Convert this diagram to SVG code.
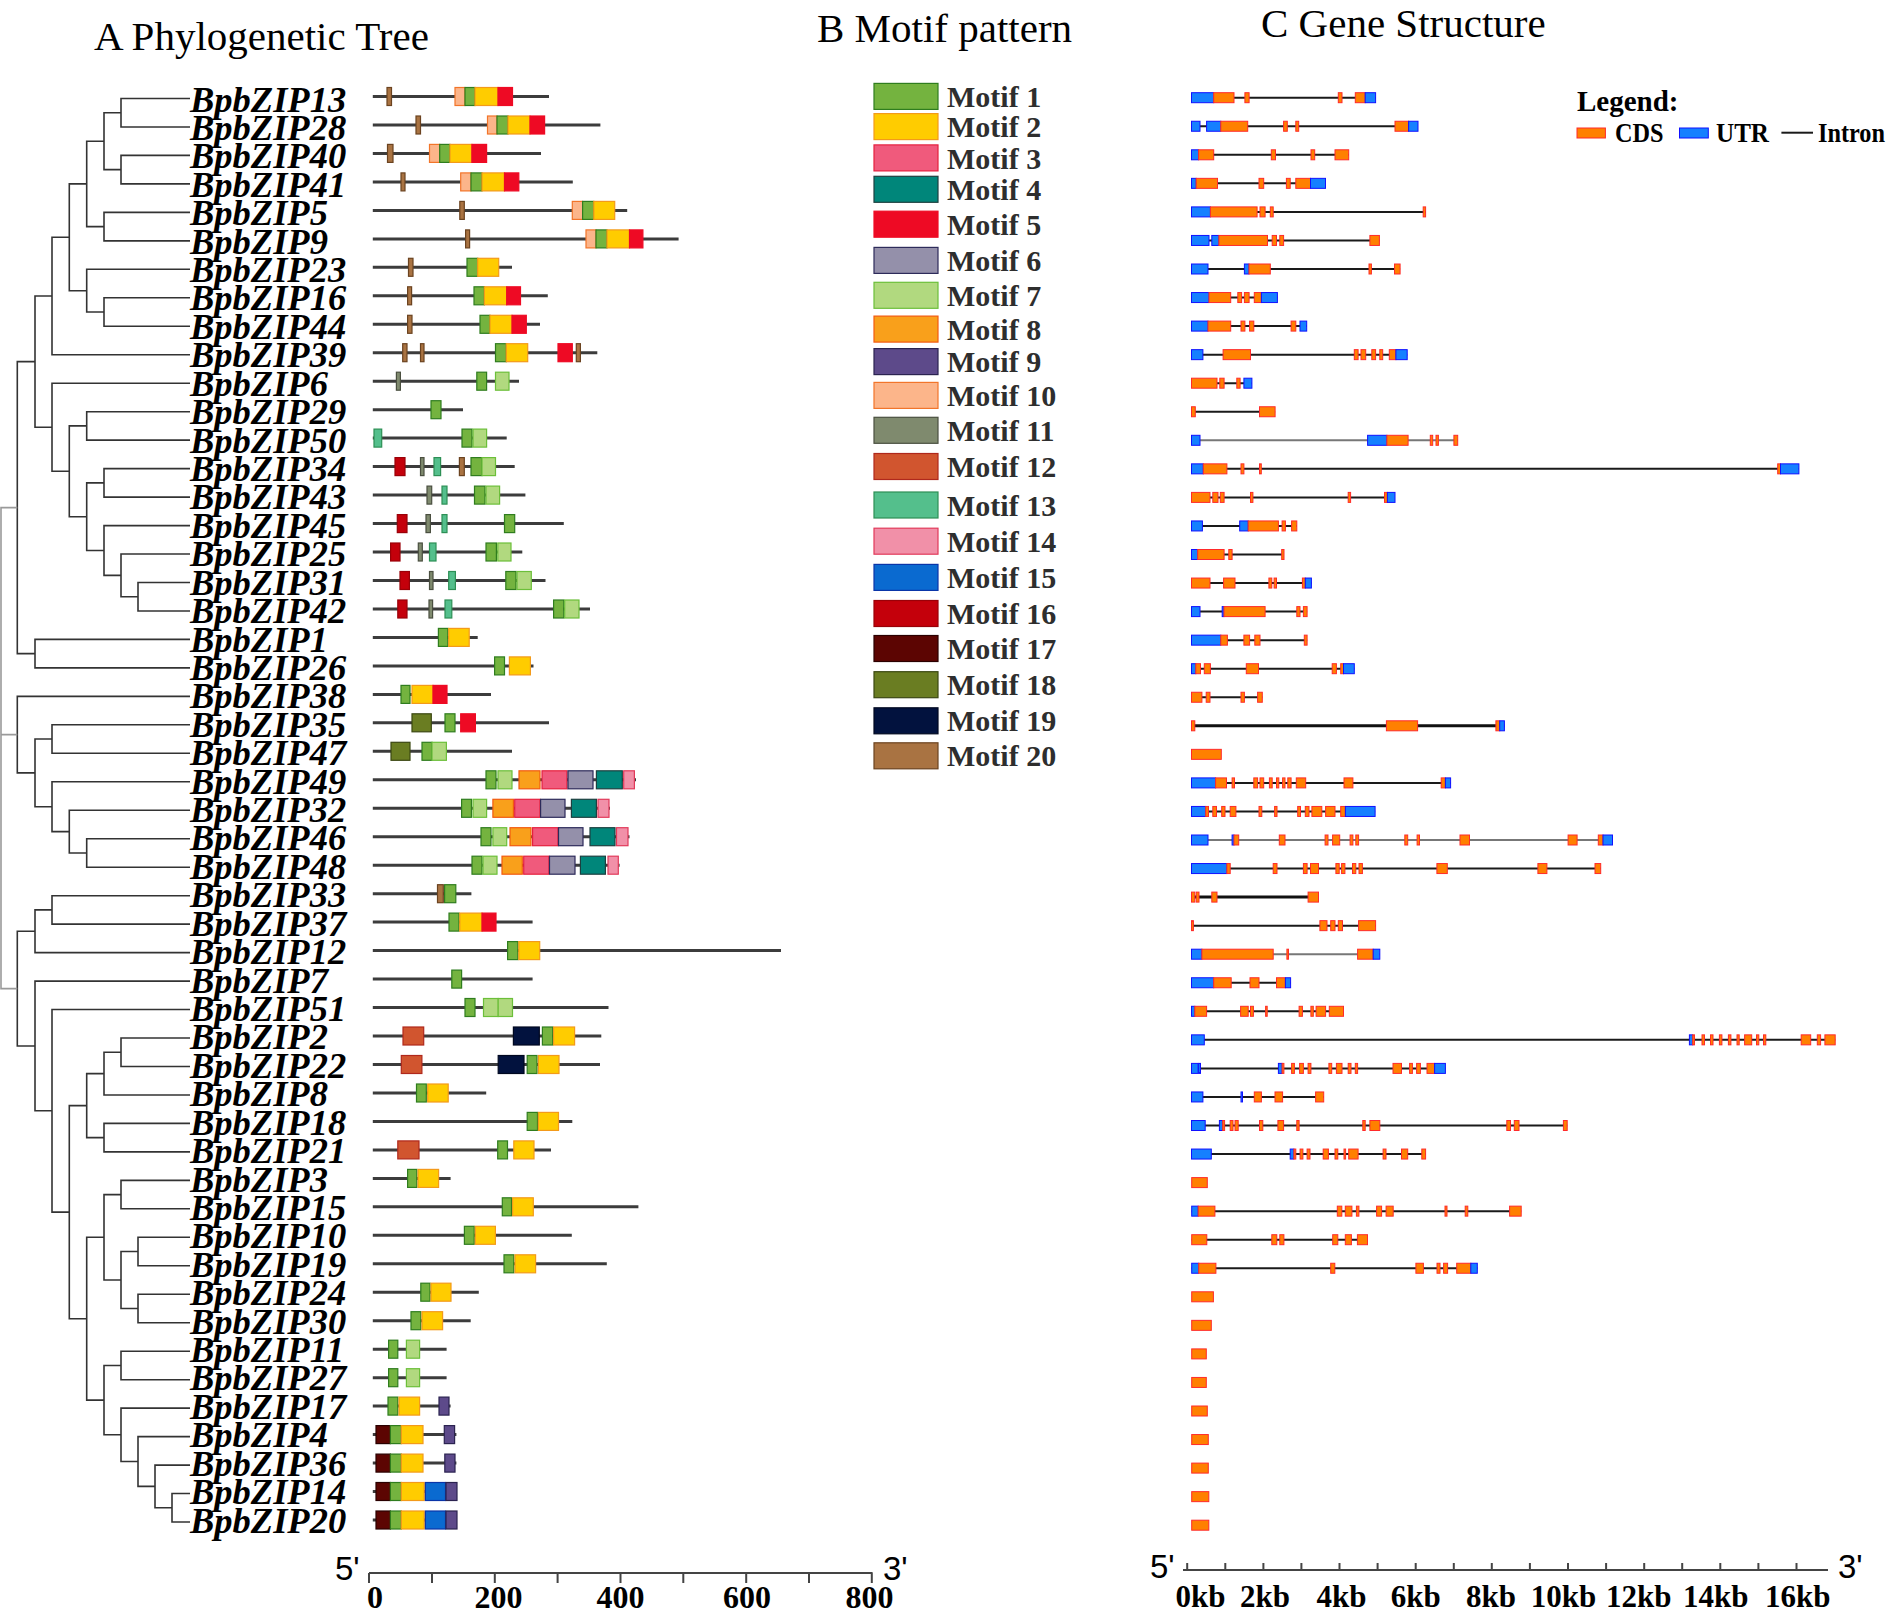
<svg xmlns="http://www.w3.org/2000/svg" width="1890" height="1612" viewBox="0 0 1890 1612">
<defs>
<style>
text{font-family:"Liberation Serif","Times New Roman",serif;fill:#000}
.ttl{font-size:41px}
.g{font-size:36.5px;font-weight:bold;font-style:italic}
.t{fill:none;stroke:#333;stroke-width:1.6}
.tr{fill:none;stroke:#9a9a9a;stroke-width:1.6}
.ml{stroke:#3c3c3c;stroke-width:3}
.il{stroke:#1a1a1a;stroke-width:2}
.ilg{stroke:#777;stroke-width:2}
.ilt{stroke:#111;stroke-width:3}
.c{fill:#ff8000;stroke:#ff2a2a;stroke-width:1}
.u{fill:#1580ff;stroke:#1010ff;stroke-width:1}
.m1,.m2,.m3,.m4,.m5,.m6,.m7,.m8,.m9,.m10,.m11,.m12,.m13,.m14,.m15,.m16,.m17,.m18,.m19,.m20{stroke-width:1.2}
.m1{fill:#74b33f;stroke:#2f7d1e}
.m2{fill:#ffcc00;stroke:#f39a1a}
.m3{fill:#f05a7c;stroke:#e5213f}
.m4{fill:#00867a;stroke:#1d4040}
.m5{fill:#ee0a24;stroke:#ee0a24}
.m6{fill:#9490aa;stroke:#2d2b5a}
.m7{fill:#b1d97f;stroke:#6cbf3a}
.m8{fill:#f9a01b;stroke:#f25a10}
.m9{fill:#5d4a8a;stroke:#2b2350}
.m10{fill:#fcb58a;stroke:#f2752a}
.m11{fill:#7f8a6e;stroke:#4a4f40}
.m12{fill:#d1552f;stroke:#b0281c}
.m13{fill:#54bf8c;stroke:#2d8f55}
.m14{fill:#f190a8;stroke:#e23a5a}
.m15{fill:#0a6ad0;stroke:#0a35a8}
.m16{fill:#c4000b;stroke:#9a0008}
.m17{fill:#5c0502;stroke:#2a0000}
.m18{fill:#6a7d22;stroke:#3b4812}
.m19{fill:#02123e;stroke:#000820}
.m20{fill:#a97342;stroke:#6b4320}
.lg{font-size:30px;font-weight:bold;fill:#2e2e2e}
.ax{stroke:#444;stroke-width:2;fill:none}
.al{font-size:32px;font-weight:bold}
.kb{font-size:31px;font-weight:bold}
.pr{font-family:"Liberation Sans",Arial,sans-serif;font-size:33px}
.lgt{font-size:29px;font-weight:bold}
.lgi{font-size:28px;font-weight:bold}
</style>
</defs>
<rect width="1890" height="1612" fill="#fff"/>

<text class="ttl" x="94" y="50">A Phylogenetic Tree</text>
<text class="ttl" x="817" y="42">B Motif pattern</text>
<text class="ttl" x="1261" y="37">C Gene Structure</text>

<g id="tree">
<path class="t" d="M190 98.5H121V127H190M190 155.4H121V183.9H190M121 112.75H104V169.65H121M190 212.4H104V240.9H190M104 141.2H86.7V226.65H104M190 297.8H104V326.3H190M190 269.3H86.7V312.05H104M86.7 183.9H69.3V290.7H86.7M69.3 237.3H52V354.7H190"/>
<path class="t" d="M190 411.7H86.7V440.1H190M190 468.6H104V497.1H190M190 582.5H138V611H190M190 554H121V596.75H138M190 525.6H104V575.4H121M104 482.85H86.7V550.5H104M86.7 425.9H69.3V516.7H86.7M190 383.2H52V471.3H69.3M52 296H35V427.25H52M190 639.4H35V667.9H190M35 361.6H17.3V653.65H35"/>
<path class="t" d="M190 724.8H52V753.3H190M190 838.7H86.7V867.2H190M190 810.3H69.3V852.95H86.7M190 781.8H52V831.6H69.3M52 739.05H35V806.7H52M190 696.4H17.3V772.9H35"/>
<path class="t" d="M190 895.7H52V924.1H190M52 909.9H35V952.6H190M190 1038H121V1066.5H190M121 1052.25H104V1095H190M190 1123.4H104V1151.9H190M104 1073.6H86.7V1137.65H104M190 1180.4H121V1208.8H190M190 1237.3H138V1265.8H190M190 1294.2H138V1322.7H190M138 1251.55H121V1308.45H138M121 1194.6H104V1280H121M190 1351.2H121V1379.7H190M190 1493.5H172V1522H190M190 1465.1H155V1507.75H172M190 1436.6H138V1486.4H155M190 1408.1H121V1461.5H138M121 1365.45H104V1434.8H121M104 1237.3H86.7V1400.1H104M86.7 1105.6H69.3V1318.7H86.7M190 1009.5H52V1212.15H69.3M190 981.1H35V1110.8H52M35 931.25H17.3V1045.95H35"/>
<path class="tr" d="M17.3 507.6H1V988.6H17.3M1 734.6H17.3"/>
</g>

<g id="BpbZIP13"><text class="g" x="190" y="111.5">BpbZIP13</text>
<g transform="translate(0,96.5)"><line class="ml" x1="372.8" x2="549"/><rect class="m20" x="387" y="-9" width="4.5" height="18"/><rect class="m10" x="455" y="-9" width="10" height="18"/><rect class="m1" x="465" y="-9" width="10" height="18"/><rect class="m2" x="475" y="-9" width="23" height="18"/><rect class="m5" x="498" y="-9" width="14.5" height="18"/></g>
<g transform="translate(0,97.7)"><line class="il" x1="1191.5" x2="1375.6"/><rect class="u" x="1191.5" y="-5" width="22.2" height="10"/><rect class="c" x="1213.7" y="-5" width="20.3" height="10"/><rect class="c" x="1244.9" y="-5" width="4.2" height="10"/><rect class="c" x="1338.3" y="-5" width="3.7" height="10"/><rect class="c" x="1355.3" y="-5" width="9.9" height="10"/><rect class="u" x="1365.2" y="-5" width="10.4" height="10"/></g></g>

<g id="BpbZIP28"><text class="g" x="190" y="139.9">BpbZIP28</text>
<g transform="translate(0,125)"><line class="ml" x1="372.8" x2="600.4"/><rect class="m20" x="416" y="-9" width="4.5" height="18"/><rect class="m10" x="487.5" y="-9" width="9.5" height="18"/><rect class="m1" x="497" y="-9" width="11" height="18"/><rect class="m2" x="508" y="-9" width="22" height="18"/><rect class="m5" x="530" y="-9" width="14.6" height="18"/></g>
<g transform="translate(0,126.25)"><line class="il" x1="1191.5" x2="1418"/><rect class="u" x="1191.5" y="-5" width="8.5" height="10"/><rect class="u" x="1206.6" y="-5" width="14.2" height="10"/><rect class="c" x="1220.8" y="-5" width="26.9" height="10"/><rect class="c" x="1283.6" y="-5" width="3.7" height="10"/><rect class="c" x="1295.8" y="-5" width="2.9" height="10"/><rect class="c" x="1395" y="-5" width="13.6" height="10"/><rect class="u" x="1408.6" y="-5" width="9.4" height="10"/></g></g>

<g id="BpbZIP40"><text class="g" x="190" y="168.3">BpbZIP40</text>
<g transform="translate(0,153.4)"><line class="ml" x1="372.8" x2="541"/><rect class="m20" x="387.5" y="-9" width="5.5" height="18"/><rect class="m10" x="429.5" y="-9" width="10.2" height="18"/><rect class="m1" x="439.7" y="-9" width="10.3" height="18"/><rect class="m2" x="450" y="-9" width="21.9" height="18"/><rect class="m5" x="471.9" y="-9" width="14.7" height="18"/></g>
<g transform="translate(0,154.8)"><line class="il" x1="1191.5" x2="1348.7"/><rect class="u" x="1191.5" y="-5" width="7.1" height="10"/><rect class="c" x="1198.6" y="-5" width="15.1" height="10"/><rect class="c" x="1271.3" y="-5" width="4.2" height="10"/><rect class="c" x="1311" y="-5" width="3.7" height="10"/><rect class="c" x="1335" y="-5" width="13.7" height="10"/></g></g>

<g id="BpbZIP41"><text class="g" x="190" y="196.8">BpbZIP41</text>
<g transform="translate(0,181.9)"><line class="ml" x1="372.8" x2="572.8"/><rect class="m20" x="401" y="-9" width="4" height="18"/><rect class="m10" x="460.7" y="-9" width="10.3" height="18"/><rect class="m1" x="471" y="-9" width="11" height="18"/><rect class="m2" x="482" y="-9" width="22.5" height="18"/><rect class="m5" x="504.5" y="-9" width="14.3" height="18"/></g>
<g transform="translate(0,183.35)"><line class="il" x1="1191.5" x2="1325.5"/><rect class="u" x="1191.5" y="-5" width="4.7" height="10"/><rect class="c" x="1196.2" y="-5" width="21.3" height="10"/><rect class="c" x="1259" y="-5" width="4.7" height="10"/><rect class="c" x="1286.4" y="-5" width="3.8" height="10"/><rect class="c" x="1295.8" y="-5" width="14.7" height="10"/><rect class="u" x="1310.5" y="-5" width="15" height="10"/></g></g>

<g id="BpbZIP5"><text class="g" x="190" y="225.2">BpbZIP5</text>
<g transform="translate(0,210.4)"><line class="ml" x1="372.8" x2="627.2"/><rect class="m20" x="459.8" y="-9" width="4.5" height="18"/><rect class="m10" x="572.3" y="-9" width="10.3" height="18"/><rect class="m1" x="582.6" y="-9" width="11.2" height="18"/><rect class="m2" x="593.8" y="-9" width="20.9" height="18"/></g>
<g transform="translate(0,211.9)"><line class="il" x1="1191.5" x2="1425.6"/><rect class="u" x="1191.5" y="-5" width="18.9" height="10"/><rect class="c" x="1210.4" y="-5" width="46.7" height="10"/><rect class="c" x="1260" y="-5" width="5.1" height="10"/><rect class="c" x="1270.3" y="-5" width="2.9" height="10"/><rect class="c" x="1423.2" y="-5" width="2.4" height="10"/></g></g>

<g id="BpbZIP9"><text class="g" x="190" y="253.6">BpbZIP9</text>
<g transform="translate(0,238.9)"><line class="ml" x1="372.8" x2="678.6"/><rect class="m20" x="465.6" y="-9" width="4" height="18"/><rect class="m10" x="586" y="-9" width="10" height="18"/><rect class="m1" x="596" y="-9" width="11" height="18"/><rect class="m2" x="607" y="-9" width="22.5" height="18"/><rect class="m5" x="629.5" y="-9" width="13.4" height="18"/></g>
<g transform="translate(0,240.45)"><line class="il" x1="1191.5" x2="1379.4"/><rect class="u" x="1191.5" y="-5" width="17.5" height="10"/><rect class="u" x="1211.8" y="-5" width="7.1" height="10"/><rect class="c" x="1218.9" y="-5" width="48.6" height="10"/><rect class="c" x="1272.2" y="-5" width="4.3" height="10"/><rect class="c" x="1279.8" y="-5" width="3.8" height="10"/><rect class="c" x="1369.9" y="-5" width="9.5" height="10"/></g></g>

<g id="BpbZIP23"><text class="g" x="190" y="282">BpbZIP23</text>
<g transform="translate(0,267.3)"><line class="ml" x1="372.8" x2="512"/><rect class="m20" x="408.5" y="-9" width="4.5" height="18"/><rect class="m1" x="467" y="-9" width="10.7" height="18"/><rect class="m2" x="477.7" y="-9" width="21" height="18"/></g>
<g transform="translate(0,269)"><line class="il" x1="1191.5" x2="1400.1"/><rect class="u" x="1191.5" y="-5" width="16.5" height="10"/><rect class="u" x="1244.4" y="-5" width="4.6" height="10"/><rect class="c" x="1249" y="-5" width="21.3" height="10"/><rect class="c" x="1369" y="-5" width="2.4" height="10"/><rect class="c" x="1394.5" y="-5" width="5.6" height="10"/></g></g>

<g id="BpbZIP16"><text class="g" x="190" y="310.4">BpbZIP16</text>
<g transform="translate(0,295.8)"><line class="ml" x1="372.8" x2="547.8"/><rect class="m20" x="407.6" y="-9" width="4" height="18"/><rect class="m1" x="474" y="-9" width="10.4" height="18"/><rect class="m2" x="484.4" y="-9" width="22.3" height="18"/><rect class="m5" x="506.7" y="-9" width="13.8" height="18"/></g>
<g transform="translate(0,297.55)"><line class="il" x1="1191.5" x2="1277.4"/><rect class="u" x="1191.5" y="-5" width="17.5" height="10"/><rect class="c" x="1209" y="-5" width="21.7" height="10"/><rect class="c" x="1237.8" y="-5" width="3.8" height="10"/><rect class="c" x="1244.4" y="-5" width="4.7" height="10"/><rect class="c" x="1254.3" y="-5" width="7.1" height="10"/><rect class="u" x="1261.4" y="-5" width="16" height="10"/></g></g>

<g id="BpbZIP44"><text class="g" x="190" y="338.9">BpbZIP44</text>
<g transform="translate(0,324.3)"><line class="ml" x1="372.8" x2="540"/><rect class="m20" x="407.6" y="-9" width="4.4" height="18"/><rect class="m1" x="480" y="-9" width="10" height="18"/><rect class="m2" x="490" y="-9" width="22" height="18"/><rect class="m5" x="512" y="-9" width="14.3" height="18"/></g>
<g transform="translate(0,326.1)"><line class="il" x1="1191.5" x2="1306.7"/><rect class="u" x="1191.5" y="-5" width="16.5" height="10"/><rect class="c" x="1208" y="-5" width="22.7" height="10"/><rect class="c" x="1241" y="-5" width="3.9" height="10"/><rect class="c" x="1249.6" y="-5" width="4.2" height="10"/><rect class="c" x="1291.1" y="-5" width="4.7" height="10"/><rect class="u" x="1300" y="-5" width="6.7" height="10"/></g></g>

<g id="BpbZIP39"><text class="g" x="190" y="367.3">BpbZIP39</text>
<g transform="translate(0,352.7)"><line class="ml" x1="372.8" x2="597.3"/><rect class="m20" x="402.7" y="-9" width="4.3" height="18"/><rect class="m20" x="420.5" y="-9" width="3.5" height="18"/><rect class="m1" x="495.5" y="-9" width="10.8" height="18"/><rect class="m2" x="506.3" y="-9" width="21.4" height="18"/><rect class="m5" x="558" y="-9" width="14.3" height="18"/><rect class="m20" x="576.3" y="-9" width="4.1" height="18"/></g>
<g transform="translate(0,354.65)"><line class="il" x1="1191.5" x2="1407.2"/><rect class="u" x="1191.5" y="-5" width="11.4" height="10"/><rect class="c" x="1223.1" y="-5" width="27.4" height="10"/><rect class="c" x="1354.3" y="-5" width="3.8" height="10"/><rect class="c" x="1361" y="-5" width="4.7" height="10"/><rect class="c" x="1371.8" y="-5" width="3.8" height="10"/><rect class="c" x="1379.8" y="-5" width="2.9" height="10"/><rect class="c" x="1389.3" y="-5" width="6.6" height="10"/><rect class="u" x="1395.9" y="-5" width="11.3" height="10"/></g></g>

<g id="BpbZIP6"><text class="g" x="190" y="395.7">BpbZIP6</text>
<g transform="translate(0,381.2)"><line class="ml" x1="372.8" x2="519"/><rect class="m11" x="396.4" y="-9" width="4" height="18"/><rect class="m1" x="476.8" y="-9" width="9.8" height="18"/><rect class="m7" x="495.5" y="-9" width="13.5" height="18"/></g>
<g transform="translate(0,383.2)"><line class="il" x1="1191.5" x2="1251.9"/><rect class="c" x="1191.5" y="-5" width="25.5" height="10"/><rect class="c" x="1219.8" y="-5" width="4.3" height="10"/><rect class="c" x="1236.8" y="-5" width="3.3" height="10"/><rect class="u" x="1243.9" y="-5" width="8" height="10"/></g></g>

<g id="BpbZIP29"><text class="g" x="190" y="424.1">BpbZIP29</text>
<g transform="translate(0,409.7)"><line class="ml" x1="372.8" x2="463"/><rect class="m1" x="431" y="-9" width="10" height="18"/></g>
<g transform="translate(0,411.75)"><line class="il" x1="1191.5" x2="1275.1"/><rect class="c" x="1191.5" y="-5" width="3.8" height="10"/><rect class="c" x="1259.5" y="-5" width="15.6" height="10"/></g></g>

<g id="BpbZIP50"><text class="g" x="190" y="452.5">BpbZIP50</text>
<g transform="translate(0,438.1)"><line class="ml" x1="372.8" x2="506.7"/><rect class="m13" x="374" y="-9" width="7.7" height="18"/><rect class="m1" x="462" y="-9" width="10" height="18"/><rect class="m7" x="473" y="-9" width="13.6" height="18"/></g>
<g transform="translate(0,440.3)"><line class="ilg" x1="1191.5" x2="1457.7"/><rect class="u" x="1191.5" y="-5" width="8.5" height="10"/><rect class="u" x="1367.6" y="-5" width="19.3" height="10"/><rect class="c" x="1386.9" y="-5" width="21.2" height="10"/><rect class="c" x="1430.3" y="-5" width="2.4" height="10"/><rect class="c" x="1436" y="-5" width="2.4" height="10"/><rect class="c" x="1453.9" y="-5" width="3.8" height="10"/></g></g>

<g id="BpbZIP34"><text class="g" x="190" y="481">BpbZIP34</text>
<g transform="translate(0,466.6)"><line class="ml" x1="372.8" x2="514.7"/><rect class="m16" x="395" y="-9" width="10" height="18"/><rect class="m11" x="420.5" y="-9" width="3.5" height="18"/><rect class="m13" x="434" y="-9" width="6.6" height="18"/><rect class="m20" x="459.4" y="-9" width="4.9" height="18"/><rect class="m1" x="471" y="-9" width="11" height="18"/><rect class="m7" x="482" y="-9" width="13.5" height="18"/></g>
<g transform="translate(0,468.85)"><line class="il" x1="1191.5" x2="1798.9"/><rect class="u" x="1191.5" y="-5" width="11.8" height="10"/><rect class="c" x="1203.3" y="-5" width="23.6" height="10"/><rect class="c" x="1241" y="-5" width="2.9" height="10"/><rect class="c" x="1259.5" y="-5" width="1.8" height="10"/><rect class="c" x="1777.7" y="-5" width="2.8" height="10"/><rect class="u" x="1780.5" y="-5" width="18.4" height="10"/></g></g>

<g id="BpbZIP43"><text class="g" x="190" y="509.4">BpbZIP43</text>
<g transform="translate(0,495.1)"><line class="ml" x1="372.8" x2="525.4"/><rect class="m11" x="427" y="-9" width="4.7" height="18"/><rect class="m13" x="442" y="-9" width="5" height="18"/><rect class="m1" x="474.5" y="-9" width="10.5" height="18"/><rect class="m7" x="486" y="-9" width="13.6" height="18"/></g>
<g transform="translate(0,497.4)"><line class="il" x1="1191.5" x2="1395"/><rect class="c" x="1191.5" y="-5" width="18.5" height="10"/><rect class="c" x="1212.8" y="-5" width="5.2" height="10"/><rect class="c" x="1220.3" y="-5" width="3.8" height="10"/><rect class="c" x="1250.5" y="-5" width="2.4" height="10"/><rect class="c" x="1348.2" y="-5" width="2.4" height="10"/><rect class="c" x="1384.5" y="-5" width="2.9" height="10"/><rect class="u" x="1387.4" y="-5" width="7.6" height="10"/></g></g>

<g id="BpbZIP45"><text class="g" x="190" y="537.8">BpbZIP45</text>
<g transform="translate(0,523.6)"><line class="ml" x1="372.8" x2="563.8"/><rect class="m16" x="397.3" y="-9" width="9.7" height="18"/><rect class="m11" x="426" y="-9" width="4.4" height="18"/><rect class="m13" x="442" y="-9" width="5" height="18"/><rect class="m1" x="504.5" y="-9" width="10.2" height="18"/></g>
<g transform="translate(0,525.95)"><line class="il" x1="1191.5" x2="1296.8"/><rect class="u" x="1191.5" y="-5" width="10.9" height="10"/><rect class="u" x="1239.7" y="-5" width="8.5" height="10"/><rect class="c" x="1248.2" y="-5" width="30.2" height="10"/><rect class="c" x="1282.1" y="-5" width="3.3" height="10"/><rect class="c" x="1291.6" y="-5" width="5.2" height="10"/></g></g>

<g id="BpbZIP25"><text class="g" x="190" y="566.2">BpbZIP25</text>
<g transform="translate(0,552)"><line class="ml" x1="372.8" x2="522.3"/><rect class="m16" x="390.6" y="-9" width="9.4" height="18"/><rect class="m11" x="418.3" y="-9" width="4" height="18"/><rect class="m13" x="429.5" y="-9" width="6.5" height="18"/><rect class="m1" x="486" y="-9" width="10.4" height="18"/><rect class="m7" x="497.8" y="-9" width="13.2" height="18"/></g>
<g transform="translate(0,554.5)"><line class="il" x1="1191.5" x2="1284"/><rect class="u" x="1191.5" y="-5" width="6.2" height="10"/><rect class="c" x="1197.7" y="-5" width="26.4" height="10"/><rect class="c" x="1228.8" y="-5" width="3.3" height="10"/><rect class="c" x="1281.7" y="-5" width="2.3" height="10"/></g></g>

<g id="BpbZIP31"><text class="g" x="190" y="594.6">BpbZIP31</text>
<g transform="translate(0,580.5)"><line class="ml" x1="372.8" x2="545.5"/><rect class="m16" x="400" y="-9" width="9.4" height="18"/><rect class="m11" x="429.5" y="-9" width="3.5" height="18"/><rect class="m13" x="448.7" y="-9" width="6.7" height="18"/><rect class="m1" x="505.8" y="-9" width="10.2" height="18"/><rect class="m7" x="517" y="-9" width="14.3" height="18"/></g>
<g transform="translate(0,583.05)"><line class="il" x1="1191.5" x2="1311.4"/><rect class="c" x="1191.5" y="-5" width="18.5" height="10"/><rect class="c" x="1223.6" y="-5" width="11.4" height="10"/><rect class="c" x="1268.9" y="-5" width="2.9" height="10"/><rect class="c" x="1274.1" y="-5" width="2.4" height="10"/><rect class="c" x="1302.4" y="-5" width="2.9" height="10"/><rect class="u" x="1305.3" y="-5" width="6.1" height="10"/></g></g>

<g id="BpbZIP42"><text class="g" x="190" y="623.1">BpbZIP42</text>
<g transform="translate(0,609)"><line class="ml" x1="372.8" x2="590"/><rect class="m16" x="397.8" y="-9" width="9.2" height="18"/><rect class="m11" x="429" y="-9" width="3.6" height="18"/><rect class="m13" x="445" y="-9" width="6.8" height="18"/><rect class="m1" x="553.6" y="-9" width="10.2" height="18"/><rect class="m7" x="564.7" y="-9" width="14.3" height="18"/></g>
<g transform="translate(0,611.6)"><line class="il" x1="1191.5" x2="1307.1"/><rect class="u" x="1191.5" y="-5" width="8.5" height="10"/><rect class="u" x="1222.2" y="-5" width="1.8" height="10"/><rect class="c" x="1224" y="-5" width="41.1" height="10"/><rect class="c" x="1296.8" y="-5" width="3.2" height="10"/><rect class="c" x="1303.4" y="-5" width="3.7" height="10"/></g></g>

<g id="BpbZIP1"><text class="g" x="190" y="651.5">BpbZIP1</text>
<g transform="translate(0,637.4)"><line class="ml" x1="372.8" x2="477.7"/><rect class="m1" x="438.4" y="-9" width="9.4" height="18"/><rect class="m2" x="448.7" y="-9" width="20.5" height="18"/></g>
<g transform="translate(0,640.15)"><line class="il" x1="1191.5" x2="1307.1"/><rect class="u" x="1191.5" y="-5" width="29.3" height="10"/><rect class="c" x="1220.8" y="-5" width="6.6" height="10"/><rect class="c" x="1243.9" y="-5" width="5.7" height="10"/><rect class="c" x="1254.8" y="-5" width="5.2" height="10"/><rect class="c" x="1304.3" y="-5" width="2.8" height="10"/></g></g>

<g id="BpbZIP26"><text class="g" x="190" y="679.9">BpbZIP26</text>
<g transform="translate(0,665.9)"><line class="ml" x1="372.8" x2="533.5"/><rect class="m1" x="494.6" y="-9" width="9.9" height="18"/><rect class="m2" x="509.4" y="-9" width="21" height="18"/></g>
<g transform="translate(0,668.7)"><line class="il" x1="1191.5" x2="1354.3"/><rect class="u" x="1191.5" y="-5" width="4.3" height="10"/><rect class="c" x="1195.8" y="-5" width="4.7" height="10"/><rect class="c" x="1204.3" y="-5" width="6.1" height="10"/><rect class="c" x="1246.3" y="-5" width="12.2" height="10"/><rect class="c" x="1332.2" y="-5" width="4.2" height="10"/><rect class="c" x="1340.7" y="-5" width="2.8" height="10"/><rect class="u" x="1343.5" y="-5" width="10.8" height="10"/></g></g>

<g id="BpbZIP38"><text class="g" x="190" y="708.3">BpbZIP38</text>
<g transform="translate(0,694.4)"><line class="ml" x1="372.8" x2="491"/><rect class="m1" x="401" y="-9" width="9" height="18"/><rect class="m2" x="412" y="-9" width="21" height="18"/><rect class="m5" x="433" y="-9" width="14" height="18"/></g>
<g transform="translate(0,697.25)"><line class="il" x1="1191.5" x2="1262.3"/><rect class="c" x="1191.5" y="-5" width="10.4" height="10"/><rect class="c" x="1206.2" y="-5" width="3.8" height="10"/><rect class="c" x="1241" y="-5" width="3.4" height="10"/><rect class="c" x="1257.6" y="-5" width="4.7" height="10"/></g></g>

<g id="BpbZIP35"><text class="g" x="190" y="736.7">BpbZIP35</text>
<g transform="translate(0,722.8)"><line class="ml" x1="372.8" x2="549"/><rect class="m18" x="412" y="-9" width="19.3" height="18"/><rect class="m1" x="445" y="-9" width="10" height="18"/><rect class="m5" x="460.7" y="-9" width="14.7" height="18"/></g>
<g transform="translate(0,725.8)"><line class="ilt" x1="1191.5" x2="1504.4"/><rect class="c" x="1191.5" y="-5" width="3.3" height="10"/><rect class="c" x="1386.4" y="-5" width="31.2" height="10"/><rect class="c" x="1495.9" y="-5" width="3.8" height="10"/><rect class="u" x="1499.7" y="-5" width="4.7" height="10"/></g></g>

<g id="BpbZIP47"><text class="g" x="190" y="765.2">BpbZIP47</text>
<g transform="translate(0,751.3)"><line class="ml" x1="372.8" x2="512"/><rect class="m18" x="391" y="-9" width="19" height="18"/><rect class="m1" x="422" y="-9" width="10" height="18"/><rect class="m7" x="432" y="-9" width="14.4" height="18"/></g>
<g transform="translate(0,754.35)"><rect class="c" x="1191.5" y="-5" width="29.8" height="10"/></g></g>

<g id="BpbZIP49"><text class="g" x="190" y="793.6">BpbZIP49</text>
<g transform="translate(0,779.8)"><line class="ml" x1="372.8" x2="636"/><rect class="m1" x="486" y="-9" width="10" height="18"/><rect class="m7" x="498" y="-9" width="14" height="18"/><rect class="m8" x="519" y="-9" width="21" height="18"/><rect class="m3" x="542" y="-9" width="25" height="18"/><rect class="m6" x="568" y="-9" width="25" height="18"/><rect class="m4" x="596.4" y="-9" width="25.9" height="18"/><rect class="m14" x="623.7" y="-9" width="10.7" height="18"/></g>
<g transform="translate(0,782.9)"><line class="il" x1="1191.5" x2="1450.6"/><rect class="u" x="1191.5" y="-5" width="24.1" height="10"/><rect class="c" x="1215.6" y="-5" width="10.9" height="10"/><rect class="c" x="1232.1" y="-5" width="2.4" height="10"/><rect class="c" x="1253.8" y="-5" width="3.8" height="10"/><rect class="c" x="1260" y="-5" width="3.7" height="10"/><rect class="c" x="1269.4" y="-5" width="2.8" height="10"/><rect class="c" x="1276.5" y="-5" width="2.3" height="10"/><rect class="c" x="1282.6" y="-5" width="2.4" height="10"/><rect class="c" x="1287.8" y="-5" width="3.3" height="10"/><rect class="c" x="1296.3" y="-5" width="9.4" height="10"/><rect class="c" x="1344" y="-5" width="8.9" height="10"/><rect class="c" x="1441.2" y="-5" width="4.2" height="10"/><rect class="u" x="1445.4" y="-5" width="5.2" height="10"/></g></g>

<g id="BpbZIP32"><text class="g" x="190" y="822">BpbZIP32</text>
<g transform="translate(0,808.3)"><line class="ml" x1="372.8" x2="610"/><rect class="m1" x="461.6" y="-9" width="9.8" height="18"/><rect class="m7" x="473" y="-9" width="13.6" height="18"/><rect class="m8" x="492.9" y="-9" width="20.5" height="18"/><rect class="m3" x="514.7" y="-9" width="25.3" height="18"/><rect class="m6" x="540.6" y="-9" width="24.4" height="18"/><rect class="m4" x="571.4" y="-9" width="25" height="18"/><rect class="m14" x="598" y="-9" width="11" height="18"/></g>
<g transform="translate(0,811.45)"><line class="il" x1="1191.5" x2="1375.1"/><rect class="u" x="1191.5" y="-5" width="14.2" height="10"/><rect class="c" x="1205.7" y="-5" width="2.8" height="10"/><rect class="c" x="1212.8" y="-5" width="3.7" height="10"/><rect class="c" x="1221.7" y="-5" width="3.3" height="10"/><rect class="c" x="1230.2" y="-5" width="5.7" height="10"/><rect class="c" x="1259" y="-5" width="2.8" height="10"/><rect class="c" x="1274.6" y="-5" width="2.4" height="10"/><rect class="c" x="1297.7" y="-5" width="2.8" height="10"/><rect class="c" x="1305.3" y="-5" width="3.7" height="10"/><rect class="c" x="1311.9" y="-5" width="9.9" height="10"/><rect class="c" x="1325.6" y="-5" width="9.4" height="10"/><rect class="c" x="1340.7" y="-5" width="4.7" height="10"/><rect class="u" x="1345.4" y="-5" width="29.7" height="10"/></g></g>

<g id="BpbZIP46"><text class="g" x="190" y="850.4">BpbZIP46</text>
<g transform="translate(0,836.7)"><line class="ml" x1="372.8" x2="629.5"/><rect class="m1" x="481" y="-9" width="10" height="18"/><rect class="m7" x="492.9" y="-9" width="13.8" height="18"/><rect class="m8" x="510" y="-9" width="21" height="18"/><rect class="m3" x="532.6" y="-9" width="25.4" height="18"/><rect class="m6" x="558.5" y="-9" width="24.5" height="18"/><rect class="m4" x="590" y="-9" width="25" height="18"/><rect class="m14" x="616.5" y="-9" width="11.5" height="18"/></g>
<g transform="translate(0,840)"><line class="ilg" x1="1191.5" x2="1612.5"/><rect class="u" x="1191.5" y="-5" width="16.5" height="10"/><rect class="u" x="1232.1" y="-5" width="1.9" height="10"/><rect class="c" x="1234" y="-5" width="4.7" height="10"/><rect class="c" x="1279.3" y="-5" width="5.7" height="10"/><rect class="c" x="1325.1" y="-5" width="2.9" height="10"/><rect class="c" x="1332.6" y="-5" width="7.1" height="10"/><rect class="c" x="1350.1" y="-5" width="2.8" height="10"/><rect class="c" x="1355.8" y="-5" width="2.8" height="10"/><rect class="c" x="1404.8" y="-5" width="2.9" height="10"/><rect class="c" x="1417.1" y="-5" width="2.4" height="10"/><rect class="c" x="1460" y="-5" width="9.5" height="10"/><rect class="c" x="1568.1" y="-5" width="9" height="10"/><rect class="c" x="1598.3" y="-5" width="4.7" height="10"/><rect class="u" x="1603" y="-5" width="9.5" height="10"/></g></g>

<g id="BpbZIP48"><text class="g" x="190" y="878.8">BpbZIP48</text>
<g transform="translate(0,865.2)"><line class="ml" x1="372.8" x2="619.6"/><rect class="m1" x="472" y="-9" width="10" height="18"/><rect class="m7" x="483" y="-9" width="14" height="18"/><rect class="m8" x="502" y="-9" width="20.3" height="18"/><rect class="m3" x="523.7" y="-9" width="25.3" height="18"/><rect class="m6" x="549.5" y="-9" width="25.5" height="18"/><rect class="m4" x="580.4" y="-9" width="25" height="18"/><rect class="m14" x="608" y="-9" width="10.3" height="18"/></g>
<g transform="translate(0,868.55)"><line class="il" x1="1191.5" x2="1600.7"/><rect class="u" x="1191.5" y="-5" width="35.4" height="10"/><rect class="c" x="1226.9" y="-5" width="3.3" height="10"/><rect class="c" x="1273.2" y="-5" width="3.8" height="10"/><rect class="c" x="1303.4" y="-5" width="3.7" height="10"/><rect class="c" x="1310.5" y="-5" width="8" height="10"/><rect class="c" x="1335.9" y="-5" width="3.3" height="10"/><rect class="c" x="1341.6" y="-5" width="3.3" height="10"/><rect class="c" x="1352.5" y="-5" width="3.3" height="10"/><rect class="c" x="1359" y="-5" width="3.4" height="10"/><rect class="c" x="1436.9" y="-5" width="10.4" height="10"/><rect class="c" x="1537.9" y="-5" width="9" height="10"/><rect class="c" x="1595" y="-5" width="5.7" height="10"/></g></g>

<g id="BpbZIP33"><text class="g" x="190" y="907.3">BpbZIP33</text>
<g transform="translate(0,893.7)"><line class="ml" x1="372.8" x2="471.4"/><rect class="m20" x="437.5" y="-9" width="5.8" height="18"/><rect class="m1" x="444.6" y="-9" width="11.2" height="18"/></g>
<g transform="translate(0,897.1)"><line class="ilt" x1="1191.5" x2="1318.5"/><rect class="c" x="1191.5" y="-5" width="3.3" height="10"/><rect class="c" x="1196.2" y="-5" width="2.8" height="10"/><rect class="c" x="1211.8" y="-5" width="5.2" height="10"/><rect class="c" x="1308.1" y="-5" width="10.4" height="10"/></g></g>

<g id="BpbZIP37"><text class="g" x="190" y="935.7">BpbZIP37</text>
<g transform="translate(0,922.1)"><line class="ml" x1="372.8" x2="532.6"/><rect class="m1" x="449" y="-9" width="10" height="18"/><rect class="m2" x="459.8" y="-9" width="22.2" height="18"/><rect class="m5" x="482" y="-9" width="14" height="18"/></g>
<g transform="translate(0,925.65)"><line class="il" x1="1191.5" x2="1375.6"/><rect class="c" x="1191.5" y="-5" width="1.9" height="10"/><rect class="c" x="1319.9" y="-5" width="7.1" height="10"/><rect class="c" x="1330.7" y="-5" width="4.3" height="10"/><rect class="c" x="1338.3" y="-5" width="4.2" height="10"/><rect class="c" x="1358.6" y="-5" width="17" height="10"/></g></g>

<g id="BpbZIP12"><text class="g" x="190" y="964.1">BpbZIP12</text>
<g transform="translate(0,950.6)"><line class="ml" x1="372.8" x2="781"/><rect class="m1" x="507.6" y="-9" width="10.3" height="18"/><rect class="m2" x="518.8" y="-9" width="20.9" height="18"/></g>
<g transform="translate(0,954.2)"><line class="ilg" x1="1191.5" x2="1379.8"/><rect class="u" x="1191.5" y="-5" width="10.4" height="10"/><rect class="c" x="1201.9" y="-5" width="71.3" height="10"/><rect class="c" x="1286.9" y="-5" width="1.6" height="10"/><rect class="c" x="1357.6" y="-5" width="15.6" height="10"/><rect class="u" x="1373.2" y="-5" width="6.6" height="10"/></g></g>

<g id="BpbZIP7"><text class="g" x="190" y="992.5">BpbZIP7</text>
<g transform="translate(0,979.1)"><line class="ml" x1="372.8" x2="532.6"/><rect class="m1" x="451.8" y="-9" width="9.8" height="18"/></g>
<g transform="translate(0,982.75)"><line class="il" x1="1191.5" x2="1290.6"/><rect class="u" x="1191.5" y="-5" width="22.2" height="10"/><rect class="c" x="1213.7" y="-5" width="17.5" height="10"/><rect class="c" x="1250" y="-5" width="9" height="10"/><rect class="c" x="1276.5" y="-5" width="8.9" height="10"/><rect class="u" x="1285.4" y="-5" width="5.2" height="10"/></g></g>

<g id="BpbZIP51"><text class="g" x="190" y="1020.9">BpbZIP51</text>
<g transform="translate(0,1007.5)"><line class="ml" x1="372.8" x2="608.5"/><rect class="m1" x="465" y="-9" width="10" height="18"/><rect class="m7" x="483.5" y="-9" width="14.7" height="18"/><rect class="m7" x="498.2" y="-9" width="14.3" height="18"/></g>
<g transform="translate(0,1011.3)"><line class="il" x1="1191.5" x2="1343.5"/><rect class="u" x="1191.5" y="-5" width="3.3" height="10"/><rect class="c" x="1194.8" y="-5" width="11.8" height="10"/><rect class="c" x="1240.6" y="-5" width="7.6" height="10"/><rect class="c" x="1250.5" y="-5" width="2.9" height="10"/><rect class="c" x="1265.6" y="-5" width="1.6" height="10"/><rect class="c" x="1299.1" y="-5" width="3.3" height="10"/><rect class="c" x="1310.9" y="-5" width="2.4" height="10"/><rect class="c" x="1316.1" y="-5" width="9.5" height="10"/><rect class="c" x="1329.3" y="-5" width="14.2" height="10"/></g></g>

<g id="BpbZIP2"><text class="g" x="190" y="1049.4">BpbZIP2</text>
<g transform="translate(0,1036)"><line class="ml" x1="372.8" x2="601.3"/><rect class="m12" x="403" y="-9" width="20.7" height="18"/><rect class="m19" x="513.4" y="-9" width="25.9" height="18"/><rect class="m1" x="542.4" y="-9" width="10.3" height="18"/><rect class="m2" x="553.6" y="-9" width="21" height="18"/></g>
<g transform="translate(0,1039.85)"><line class="il" x1="1191.5" x2="1835.2"/><rect class="u" x="1191.5" y="-5" width="12.8" height="10"/><rect class="u" x="1689.4" y="-5" width="3.3" height="10"/><rect class="c" x="1692.7" y="-5" width="1.8" height="10"/><rect class="c" x="1702" y="-5" width="2.5" height="10"/><rect class="c" x="1710.5" y="-5" width="2.5" height="10"/><rect class="c" x="1719.4" y="-5" width="2.5" height="10"/><rect class="c" x="1728.4" y="-5" width="2.5" height="10"/><rect class="c" x="1737" y="-5" width="2.2" height="10"/><rect class="c" x="1744.6" y="-5" width="7.1" height="10"/><rect class="c" x="1756.5" y="-5" width="2.3" height="10"/><rect class="c" x="1763.5" y="-5" width="2.3" height="10"/><rect class="c" x="1801.2" y="-5" width="9.5" height="10"/><rect class="c" x="1817.3" y="-5" width="3.3" height="10"/><rect class="c" x="1824.9" y="-5" width="10.3" height="10"/></g></g>

<g id="BpbZIP22"><text class="g" x="190" y="1077.8">BpbZIP22</text>
<g transform="translate(0,1064.5)"><line class="ml" x1="372.8" x2="600"/><rect class="m12" x="401.3" y="-9" width="20.6" height="18"/><rect class="m19" x="498.2" y="-9" width="25.8" height="18"/><rect class="m1" x="527.2" y="-9" width="9.8" height="18"/><rect class="m2" x="538.4" y="-9" width="20.6" height="18"/></g>
<g transform="translate(0,1068.4)"><line class="il" x1="1191.5" x2="1445.4"/><rect class="u" x="1191.5" y="-5" width="6.6" height="10"/><rect class="u" x="1198.6" y="-5" width="1.9" height="10"/><rect class="u" x="1278.4" y="-5" width="3.7" height="10"/><rect class="c" x="1282.1" y="-5" width="1.8" height="10"/><rect class="c" x="1291.6" y="-5" width="2.8" height="10"/><rect class="c" x="1299.6" y="-5" width="3.8" height="10"/><rect class="c" x="1308.1" y="-5" width="2.8" height="10"/><rect class="c" x="1328.9" y="-5" width="2.8" height="10"/><rect class="c" x="1336.4" y="-5" width="5.6" height="10"/><rect class="c" x="1348.2" y="-5" width="2.8" height="10"/><rect class="c" x="1355.3" y="-5" width="2.3" height="10"/><rect class="c" x="1393" y="-5" width="8.5" height="10"/><rect class="c" x="1409.6" y="-5" width="2.8" height="10"/><rect class="c" x="1416.6" y="-5" width="3.8" height="10"/><rect class="c" x="1427" y="-5" width="7.6" height="10"/><rect class="u" x="1434.6" y="-5" width="10.8" height="10"/></g></g>

<g id="BpbZIP8"><text class="g" x="190" y="1106.2">BpbZIP8</text>
<g transform="translate(0,1093)"><line class="ml" x1="372.8" x2="486.2"/><rect class="m1" x="416.5" y="-9" width="9.8" height="18"/><rect class="m2" x="427.7" y="-9" width="20.5" height="18"/></g>
<g transform="translate(0,1096.95)"><line class="il" x1="1191.5" x2="1323.7"/><rect class="u" x="1191.5" y="-5" width="11.4" height="10"/><rect class="u" x="1241" y="-5" width="1.5" height="10"/><rect class="c" x="1254.3" y="-5" width="7.1" height="10"/><rect class="c" x="1275" y="-5" width="7.6" height="10"/><rect class="c" x="1315.6" y="-5" width="8.1" height="10"/></g></g>

<g id="BpbZIP18"><text class="g" x="190" y="1134.6">BpbZIP18</text>
<g transform="translate(0,1121.4)"><line class="ml" x1="372.8" x2="572.3"/><rect class="m1" x="527.2" y="-9" width="10.3" height="18"/><rect class="m2" x="538.4" y="-9" width="20.1" height="18"/></g>
<g transform="translate(0,1125.5)"><line class="il" x1="1191.5" x2="1567.2"/><rect class="u" x="1191.5" y="-5" width="13.7" height="10"/><rect class="u" x="1219.4" y="-5" width="3.3" height="10"/><rect class="c" x="1222.7" y="-5" width="1.9" height="10"/><rect class="c" x="1230.2" y="-5" width="2.8" height="10"/><rect class="c" x="1235" y="-5" width="3.2" height="10"/><rect class="c" x="1259.5" y="-5" width="3.3" height="10"/><rect class="c" x="1277.9" y="-5" width="5.7" height="10"/><rect class="c" x="1296.8" y="-5" width="2.3" height="10"/><rect class="c" x="1362.8" y="-5" width="2.4" height="10"/><rect class="c" x="1369.9" y="-5" width="9.9" height="10"/><rect class="c" x="1506.8" y="-5" width="3.7" height="10"/><rect class="c" x="1514.3" y="-5" width="4.7" height="10"/><rect class="c" x="1563.4" y="-5" width="3.8" height="10"/></g></g>

<g id="BpbZIP21"><text class="g" x="190" y="1163">BpbZIP21</text>
<g transform="translate(0,1149.9)"><line class="ml" x1="372.8" x2="551"/><rect class="m12" x="397.8" y="-9" width="21.2" height="18"/><rect class="m1" x="497.7" y="-9" width="9.8" height="18"/><rect class="m2" x="513.8" y="-9" width="20.2" height="18"/></g>
<g transform="translate(0,1154.05)"><line class="il" x1="1191.5" x2="1425.6"/><rect class="u" x="1191.5" y="-5" width="19.8" height="10"/><rect class="u" x="1290.2" y="-5" width="3.7" height="10"/><rect class="c" x="1293.9" y="-5" width="1.9" height="10"/><rect class="c" x="1300.1" y="-5" width="2.8" height="10"/><rect class="c" x="1307.1" y="-5" width="2.9" height="10"/><rect class="c" x="1323.2" y="-5" width="5.2" height="10"/><rect class="c" x="1335" y="-5" width="2.8" height="10"/><rect class="c" x="1344" y="-5" width="1.6" height="10"/><rect class="c" x="1348.7" y="-5" width="9.4" height="10"/><rect class="c" x="1383.1" y="-5" width="2.9" height="10"/><rect class="c" x="1401.5" y="-5" width="6.2" height="10"/><rect class="c" x="1421.8" y="-5" width="3.8" height="10"/></g></g>

<g id="BpbZIP3"><text class="g" x="190" y="1191.5">BpbZIP3</text>
<g transform="translate(0,1178.4)"><line class="ml" x1="372.8" x2="450.6"/><rect class="m1" x="407.6" y="-9" width="9.2" height="18"/><rect class="m2" x="418" y="-9" width="20.6" height="18"/></g>
<g transform="translate(0,1182.6)"><rect class="c" x="1191.7" y="-5" width="15.6" height="10"/></g></g>

<g id="BpbZIP15"><text class="g" x="190" y="1219.9">BpbZIP15</text>
<g transform="translate(0,1206.8)"><line class="ml" x1="372.8" x2="638.4"/><rect class="m1" x="502.3" y="-9" width="9.2" height="18"/><rect class="m2" x="512.6" y="-9" width="20.7" height="18"/></g>
<g transform="translate(0,1211.15)"><line class="il" x1="1191.7" x2="1521.2"/><rect class="u" x="1191.7" y="-5" width="6.5" height="10"/><rect class="c" x="1198.2" y="-5" width="16.7" height="10"/><rect class="c" x="1337.3" y="-5" width="4.5" height="10"/><rect class="c" x="1345.3" y="-5" width="6.6" height="10"/><rect class="c" x="1356.4" y="-5" width="2.5" height="10"/><rect class="c" x="1376.6" y="-5" width="5" height="10"/><rect class="c" x="1386.1" y="-5" width="7.1" height="10"/><rect class="c" x="1445" y="-5" width="2" height="10"/><rect class="c" x="1465.2" y="-5" width="2.6" height="10"/><rect class="c" x="1509.6" y="-5" width="11.6" height="10"/></g></g>

<g id="BpbZIP10"><text class="g" x="190" y="1248.3">BpbZIP10</text>
<g transform="translate(0,1235.3)"><line class="ml" x1="372.8" x2="571.8"/><rect class="m1" x="464.4" y="-9" width="9.8" height="18"/><rect class="m2" x="475.3" y="-9" width="20.1" height="18"/></g>
<g transform="translate(0,1239.7)"><line class="il" x1="1191.7" x2="1367.5"/><rect class="c" x="1191.7" y="-5" width="15.1" height="10"/><rect class="c" x="1271.8" y="-5" width="5" height="10"/><rect class="c" x="1279.8" y="-5" width="4.1" height="10"/><rect class="c" x="1332.7" y="-5" width="5.1" height="10"/><rect class="c" x="1345.3" y="-5" width="6.1" height="10"/><rect class="c" x="1357.4" y="-5" width="10.1" height="10"/></g></g>

<g id="BpbZIP19"><text class="g" x="190" y="1276.7">BpbZIP19</text>
<g transform="translate(0,1263.8)"><line class="ml" x1="372.8" x2="606.8"/><rect class="m1" x="504" y="-9" width="9.8" height="18"/><rect class="m2" x="515" y="-9" width="20.6" height="18"/></g>
<g transform="translate(0,1268.25)"><line class="il" x1="1191.7" x2="1477.3"/><rect class="u" x="1191.7" y="-5" width="7" height="10"/><rect class="c" x="1198.7" y="-5" width="17.2" height="10"/><rect class="c" x="1330.7" y="-5" width="4.1" height="10"/><rect class="c" x="1415.9" y="-5" width="7.5" height="10"/><rect class="c" x="1437" y="-5" width="3" height="10"/><rect class="c" x="1443.6" y="-5" width="4" height="10"/><rect class="c" x="1456.7" y="-5" width="14.1" height="10"/><rect class="u" x="1470.8" y="-5" width="6.5" height="10"/></g></g>

<g id="BpbZIP24"><text class="g" x="190" y="1305.1">BpbZIP24</text>
<g transform="translate(0,1292.2)"><line class="ml" x1="372.8" x2="478.8"/><rect class="m1" x="420.8" y="-9" width="9.2" height="18"/><rect class="m2" x="431" y="-9" width="20" height="18"/></g>
<g transform="translate(0,1296.8)"><rect class="c" x="1191.7" y="-5" width="21.7" height="10"/></g></g>

<g id="BpbZIP30"><text class="g" x="190" y="1333.6">BpbZIP30</text>
<g transform="translate(0,1320.7)"><line class="ml" x1="372.8" x2="470.7"/><rect class="m1" x="411" y="-9" width="9.8" height="18"/><rect class="m2" x="422" y="-9" width="20.6" height="18"/></g>
<g transform="translate(0,1325.35)"><rect class="c" x="1191.7" y="-5" width="19.6" height="10"/></g></g>

<g id="BpbZIP11"><text class="g" x="190" y="1362">BpbZIP11</text>
<g transform="translate(0,1349.2)"><line class="ml" x1="372.8" x2="446.6"/><rect class="m1" x="388.6" y="-9" width="9.2" height="18"/><rect class="m7" x="406.4" y="-9" width="13.2" height="18"/></g>
<g transform="translate(0,1353.9)"><rect class="c" x="1191.7" y="-5" width="14.6" height="10"/></g></g>

<g id="BpbZIP27"><text class="g" x="190" y="1390.4">BpbZIP27</text>
<g transform="translate(0,1377.7)"><line class="ml" x1="372.8" x2="446.6"/><rect class="m1" x="388.6" y="-9" width="9.2" height="18"/><rect class="m7" x="406.4" y="-9" width="13.2" height="18"/></g>
<g transform="translate(0,1382.45)"><rect class="c" x="1191.7" y="-5" width="14.6" height="10"/></g></g>

<g id="BpbZIP17"><text class="g" x="190" y="1418.8">BpbZIP17</text>
<g transform="translate(0,1406.1)"><line class="ml" x1="372.8" x2="450.6"/><rect class="m1" x="388" y="-9" width="9.8" height="18"/><rect class="m2" x="399" y="-9" width="20.6" height="18"/><rect class="m9" x="439" y="-9" width="10" height="18"/></g>
<g transform="translate(0,1411)"><rect class="c" x="1191.7" y="-5" width="15.6" height="10"/></g></g>

<g id="BpbZIP4"><text class="g" x="190" y="1447.2">BpbZIP4</text>
<g transform="translate(0,1434.6)"><line class="ml" x1="372.8" x2="456.4"/><rect class="m17" x="376" y="-9" width="14.4" height="18"/><rect class="m1" x="390.4" y="-9" width="10.9" height="18"/><rect class="m2" x="401.3" y="-9" width="21.7" height="18"/><rect class="m9" x="444.3" y="-9" width="10.3" height="18"/></g>
<g transform="translate(0,1439.55)"><rect class="c" x="1191.7" y="-5" width="16.6" height="10"/></g></g>

<g id="BpbZIP36"><text class="g" x="190" y="1475.7">BpbZIP36</text>
<g transform="translate(0,1463.1)"><line class="ml" x1="372.8" x2="456.4"/><rect class="m17" x="376" y="-9" width="14.4" height="18"/><rect class="m1" x="390.4" y="-9" width="10.9" height="18"/><rect class="m2" x="401.3" y="-9" width="21.7" height="18"/><rect class="m9" x="444.8" y="-9" width="10.2" height="18"/></g>
<g transform="translate(0,1468.1)"><rect class="c" x="1191.7" y="-5" width="16.6" height="10"/></g></g>

<g id="BpbZIP14"><text class="g" x="190" y="1504.1">BpbZIP14</text>
<g transform="translate(0,1491.5)"><line class="ml" x1="372.8" x2="457"/><rect class="m17" x="376" y="-9" width="14.4" height="18"/><rect class="m1" x="390.4" y="-9" width="10.9" height="18"/><rect class="m2" x="401.3" y="-9" width="22.9" height="18"/><rect class="m15" x="425.4" y="-9" width="20.1" height="18"/><rect class="m9" x="446" y="-9" width="11" height="18"/></g>
<g transform="translate(0,1496.65)"><rect class="c" x="1191.7" y="-5" width="17.1" height="10"/></g></g>

<g id="BpbZIP20"><text class="g" x="190" y="1532.5">BpbZIP20</text>
<g transform="translate(0,1520)"><line class="ml" x1="372.8" x2="457"/><rect class="m17" x="376" y="-9" width="14.4" height="18"/><rect class="m1" x="390.4" y="-9" width="10.9" height="18"/><rect class="m2" x="401.3" y="-9" width="22.9" height="18"/><rect class="m15" x="425.4" y="-9" width="20.1" height="18"/><rect class="m9" x="446" y="-9" width="11" height="18"/></g>
<g transform="translate(0,1525.2)"><rect class="c" x="1191.7" y="-5" width="17.1" height="10"/></g></g>

<g id="motif-legend">
<rect class="m1" x="874" y="83.4" width="64" height="26"/><text class="lg" x="947" y="107">Motif 1</text>
<rect class="m2" x="874" y="113.6" width="64" height="26"/><text class="lg" x="947" y="137.2">Motif 2</text>
<rect class="m3" x="874" y="144.9" width="64" height="26"/><text class="lg" x="947" y="168.5">Motif 3</text>
<rect class="m4" x="874" y="176.3" width="64" height="26"/><text class="lg" x="947" y="199.9">Motif 4</text>
<rect class="m5" x="874" y="211.2" width="64" height="26"/><text class="lg" x="947" y="234.8">Motif 5</text>
<rect class="m6" x="874" y="247.4" width="64" height="26"/><text class="lg" x="947" y="271">Motif 6</text>
<rect class="m7" x="874" y="282.3" width="64" height="26"/><text class="lg" x="947" y="305.9">Motif 7</text>
<rect class="m8" x="874" y="316.1" width="64" height="26"/><text class="lg" x="947" y="339.7">Motif 8</text>
<rect class="m9" x="874" y="348.6" width="64" height="26"/><text class="lg" x="947" y="372.2">Motif 9</text>
<rect class="m10" x="874" y="382.4" width="64" height="26"/><text class="lg" x="947" y="406">Motif 10</text>
<rect class="m11" x="874" y="417.3" width="64" height="26"/><text class="lg" x="947" y="440.9">Motif 11</text>
<rect class="m12" x="874" y="453.5" width="64" height="26"/><text class="lg" x="947" y="477.1">Motif 12</text>
<rect class="m13" x="874" y="492" width="64" height="26"/><text class="lg" x="947" y="515.6">Motif 13</text>
<rect class="m14" x="874" y="528.2" width="64" height="26"/><text class="lg" x="947" y="551.8">Motif 14</text>
<rect class="m15" x="874" y="564.4" width="64" height="26"/><text class="lg" x="947" y="588">Motif 15</text>
<rect class="m16" x="874" y="600.5" width="64" height="26"/><text class="lg" x="947" y="624.1">Motif 16</text>
<rect class="m17" x="874" y="635.5" width="64" height="26"/><text class="lg" x="947" y="659.1">Motif 17</text>
<rect class="m18" x="874" y="671.7" width="64" height="26"/><text class="lg" x="947" y="695.3">Motif 18</text>
<rect class="m19" x="874" y="707.8" width="64" height="26"/><text class="lg" x="947" y="731.4">Motif 19</text>
<rect class="m20" x="874" y="742.8" width="64" height="26"/><text class="lg" x="947" y="766.4">Motif 20</text>
</g>

<g id="gene-legend">
<text class="lgt" x="1577" y="111">Legend:</text>
<rect class="c" x="1577" y="128" width="28.4" height="10"/>
<text class="lgi" x="1615" y="141.7" textLength="48.5" lengthAdjust="spacingAndGlyphs">CDS</text>
<rect class="u" x="1679.5" y="128" width="28.8" height="10"/>
<text class="lgi" x="1716" y="141.7" textLength="53" lengthAdjust="spacingAndGlyphs">UTR</text>
<line class="il" x1="1781.4" y1="132.7" x2="1813" y2="132.7"/>
<text class="lgi" x="1818" y="141.7" textLength="67" lengthAdjust="spacingAndGlyphs">Intron</text>
</g>

<g id="protein-axis">
<path class="ax" d="M369 1573H872.6M369 1573v10M432 1573v10M494.8 1573v10M557.6 1573v10M620.5 1573v10M683.3 1573v10M746.2 1573v10M809 1573v10M871.8 1573v10"/>
<text class="pr" x="335" y="1580">5'</text>
<text class="pr" x="883" y="1580">3'</text>
<g class="al" text-anchor="middle">
<text x="375" y="1608">0</text><text x="498.6" y="1608">200</text><text x="620.6" y="1608">400</text><text x="747" y="1608">600</text><text x="869.6" y="1608">800</text>
</g>
</g>

<g id="gene-axis">
<path class="ax" d="M1183 1570H1828M1187.2 1570v-7M1225.3 1570v-7M1263.4 1570v-7M1301.4 1570v-7M1339.5 1570v-7M1377.6 1570v-7M1415.7 1570v-7M1453.8 1570v-7M1491.8 1570v-7M1529.9 1570v-7M1568 1570v-7M1606.1 1570v-7M1644.2 1570v-7M1682.2 1570v-7M1720.3 1570v-7M1758.4 1570v-7M1796.5 1570v-7"/>
<text class="pr" x="1150" y="1578">5'</text>
<text class="pr" x="1838" y="1578">3'</text>
<g class="kb">
<text x="1175.6" y="1607">0kb</text><text x="1240" y="1607">2kb</text><text x="1316.6" y="1607">4kb</text><text x="1390.7" y="1607">6kb</text><text x="1466" y="1607">8kb</text><text x="1530.7" y="1607">10kb</text><text x="1606" y="1607">12kb</text><text x="1683" y="1607">14kb</text><text x="1765" y="1607">16kb</text>
</g>
</g>
</svg>
